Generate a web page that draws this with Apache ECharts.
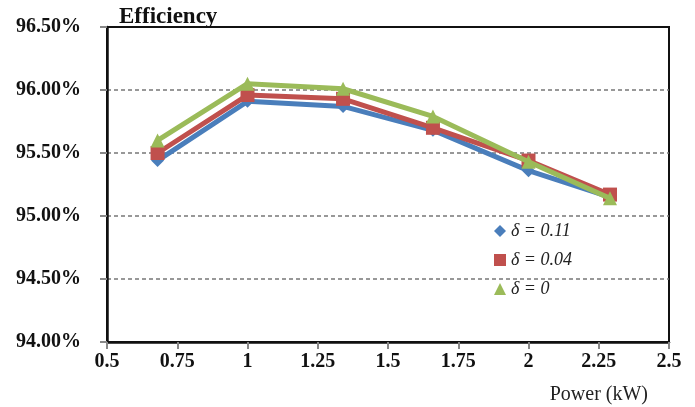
<!DOCTYPE html>
<html>
<head>
<meta charset="utf-8">
<script src="https://cdn.jsdelivr.net/npm/echarts@6/dist/echarts.min.js"></script>
<style>html,body{margin:0;padding:0;background:#fff}#c{width:695px;height:407px}</style>
</head>
<body>
<div id="c"></div>
<script>
const power = [0.68, 1.0, 1.34, 1.66, 2.0, 2.29];
const effD011 = [95.44, 95.91, 95.87, 95.68, 95.36, 95.15];
const effD004 = [95.50, 95.96, 95.93, 95.70, 95.44, 95.17];
const effD0 = [95.60, 96.05, 96.01, 95.79, 95.43, 95.14];
const seriesNames = ['δ = 0.11', 'δ = 0.04', 'δ = 0'];
const colors = ['#4A7EBB', '#C0504D', '#9BBB59'];
const symbols = ['diamond', 'rect', 'triangle'];
const symbolSizes = [13, 14, 14];
const allData = [effD011, effD004, effD0];

const chart = echarts.init(document.getElementById('c'));
const serif = '"Liberation Serif", "Times New Roman", serif';

chart.setOption({
  animation: false,
  backgroundColor: '#fff',
  title: [
    { text: 'Efficiency', left: 114, top: 1,
      textStyle: { fontFamily: serif, fontWeight: 'bold', fontSize: 23, color: '#111' } },
    { text: 'Power (kW)', right: 42, top: 380,
      textStyle: { fontFamily: serif, fontWeight: 'normal', fontSize: 20, color: '#222' } }
  ],
  legend: {
    orient: 'vertical', left: 489, top: 217,
    itemWidth: 12, itemHeight: 12, itemGap: 11,
    data: seriesNames.map((n, i) => ({ name: n, icon: symbols[i] })),
    textStyle: { fontFamily: serif, fontStyle: 'italic', fontSize: 18, color: '#222', lineHeight: 18 }
  },
  grid: { left: 107, right: 26, top: 27, bottom: 65, show: true, borderColor: '#111', borderWidth: 2, backgroundColor: '#fff' },
  xAxis: {
    type: 'value', min: 0.5, max: 2.5, interval: 0.25,
    axisLine: { show: true, lineStyle: { color: '#111', width: 2.5 } },
    axisTick: { show: true, inside: false, length: 7, lineStyle: { color: '#888', width: 2 } },
    splitLine: { show: false },
    axisLabel: { fontFamily: serif, fontWeight: 'bold', fontSize: 20, color: '#111', margin: 10 }
  },
  yAxis: {
    type: 'value', min: 94, max: 96.5, interval: 0.5,
    axisLine: { show: true, lineStyle: { color: '#111', width: 2.5 } },
    axisTick: { show: true, inside: false, length: 7, lineStyle: { color: '#888', width: 2 } },
    splitLine: { show: true, showMaxLine: false, showMinLine: false, lineStyle: { color: '#777', type: [4, 3], width: 1.5 } },
    axisLabel: { fontFamily: serif, fontWeight: 'bold', fontSize: 20, color: '#111', margin: 26,
      formatter: v => v.toFixed(2) + '%' }
  },
  series: allData.map((d, i) => ({
    name: seriesNames[i], type: 'line',
    data: power.map((x, j) => [x, d[j]]),
    symbol: symbols[i], symbolSize: symbolSizes[i],
    lineStyle: { color: colors[i], width: 5 },
    itemStyle: { color: colors[i] },
    z: 2 + i
  }))
});
</script>
</body>
</html>
